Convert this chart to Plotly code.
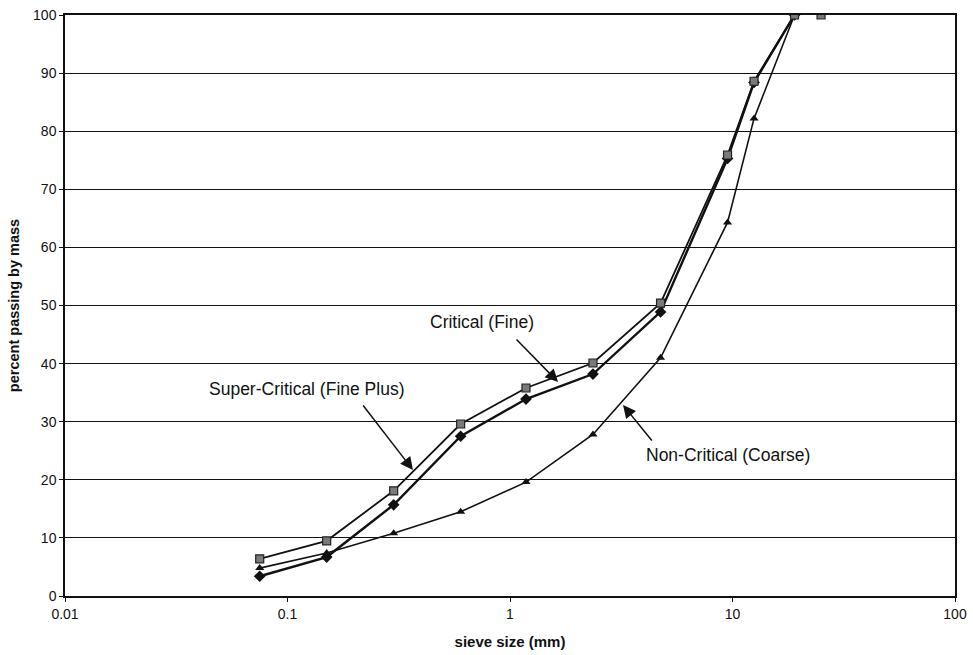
import plotly.graph_objects as go

sieve = [0.075, 0.15, 0.3, 0.6, 1.18, 2.36, 4.75, 9.5, 12.5, 19]
super_critical = [6.4, 9.5, 18.1, 29.6, 35.8, 40.1, 50.4, 75.9, 88.6, 100]
critical = [3.4, 6.7, 15.7, 27.5, 33.9, 38.2, 48.9, 75.3, 88.4, 100]
non_critical = [4.8, 7.4, 10.8, 14.5, 19.6, 27.8, 41.0, 64.3, 82.2, 100]
extra_sieve = [25]
extra_super = [100]

x_ticks = [0.01, 0.1, 1, 10, 100]
x_tick_labels = ["0.01", "0.1", "1", "10", "100"]
y_ticks = list(range(0, 101, 10))

FONT = "Arial, Liberation Sans, sans-serif"

fig = go.Figure()
fig.add_trace(go.Scatter(x=sieve, y=non_critical, mode="lines+markers",
                         line=dict(color="#111", width=1.6),
                         marker=dict(symbol="triangle-up", size=8, color="#111")))
fig.add_trace(go.Scatter(x=sieve, y=critical, mode="lines+markers",
                         line=dict(color="#111", width=2.4),
                         marker=dict(symbol="diamond", size=9, color="#111")))
fig.add_trace(go.Scatter(x=sieve, y=super_critical, mode="lines+markers",
                         line=dict(color="#111", width=1.8),
                         marker=dict(symbol="square", size=8, color="#7a7a7a",
                                     line=dict(color="#222", width=1.2))))
fig.add_trace(go.Scatter(x=extra_sieve, y=extra_super, mode="markers",
                         marker=dict(symbol="square", size=8, color="#7a7a7a",
                                     line=dict(color="#222", width=1.2))))

font_txt = dict(family=FONT, size=17.5, color="#111")

texts = [
    ("Critical (Fine)", 0.468, 0.4716),
    ("Super-Critical (Fine Plus)", 0.2713, 0.356),
    ("Non-Critical (Coarse)", 0.745, 0.2427),
]
for t, px, py in texts:
    fig.add_annotation(text=t, x=px, y=py, xref="paper", yref="paper",
                       xanchor="center", yanchor="middle",
                       showarrow=False, font=font_txt)

arrows = [
    (0.554, 0.3683, -43, -44),
    (0.391, 0.2169, -51, -66),
    (0.627, 0.3287, 30, 37),
]
for px, py, ax, ay in arrows:
    fig.add_annotation(text="", x=px, y=py, xref="paper", yref="paper",
                       showarrow=True, ax=ax, ay=ay, arrowhead=2,
                       arrowsize=1.7, arrowwidth=1.5, arrowcolor="#111")

fig.update_layout(
    width=973, height=655,
    margin=dict(l=65, r=18, t=15, b=59),
    paper_bgcolor="white", plot_bgcolor="white",
    showlegend=False,
    font=dict(family=FONT, size=14, color="#111"),
)
fig.update_xaxes(type="log", range=[-2, 2], tickvals=x_ticks, ticktext=x_tick_labels,
                 automargin=False,
                 showgrid=False, showline=True, linecolor="#111", linewidth=1.5,
                 mirror=True, ticks="outside", ticklen=4, tickcolor="#111",
                 tickfont=dict(size=14),
                 title=dict(text="<b>sieve size (mm)</b>", font=dict(size=15), standoff=16))
fig.update_yaxes(range=[0, 100], tickvals=y_ticks, showgrid=True, gridcolor="#111",
                 automargin=False,
                 gridwidth=1, showline=True, linecolor="#111", linewidth=1.5,
                 mirror=True, ticks="outside", ticklen=4, tickcolor="#111",
                 tickfont=dict(size=14), zeroline=False,
                 title=dict(text="<b>percent passing by mass</b>", font=dict(size=14.5), standoff=10))

fig.write_html("out.html")
